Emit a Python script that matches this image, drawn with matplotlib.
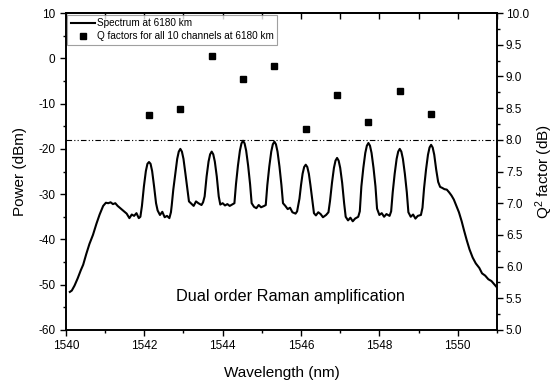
import matplotlib
matplotlib.use("Agg")
import matplotlib.pyplot as plt
from matplotlib.ticker import MultipleLocator, FormatStrFormatter

plt.rcParams['font.family'] = ['Liberation Sans', 'DejaVu Sans']
plt.rcParams['mathtext.default'] = 'regular'
plt.rcParams['axes.unicode_minus'] = False

# ---- data ----
wavelength_nm = [
    1540.10, 1540.15, 1540.22, 1540.30, 1540.38, 1540.44, 1540.52, 1540.60, 1540.69, 1540.78,
    1540.86, 1540.95, 1541.02, 1541.08, 1541.14, 1541.20, 1541.26, 1541.32, 1541.40, 1541.48,
    1541.55, 1541.62, 1541.68, 1541.74, 1541.80, 1541.86, 1541.90,
    1541.94, 1541.99, 1542.04, 1542.08, 1542.12, 1542.16, 1542.20, 1542.25, 1542.30, 1542.34,
    1542.40, 1542.46, 1542.52, 1542.58, 1542.64, 1542.68,
    1542.70, 1542.74, 1542.79, 1542.84, 1542.88, 1542.92, 1542.96, 1543.00, 1543.05, 1543.10, 1543.14,
    1543.20, 1543.26, 1543.32, 1543.38, 1543.46, 1543.50,
    1543.54, 1543.59, 1543.64, 1543.68, 1543.72, 1543.76, 1543.80, 1543.85, 1543.90, 1543.94,
    1544.00, 1544.06, 1544.12, 1544.18, 1544.26, 1544.30,
    1544.34, 1544.39, 1544.44, 1544.48, 1544.52, 1544.56, 1544.60, 1544.65, 1544.70, 1544.74,
    1544.80, 1544.86, 1544.92, 1544.98, 1545.06, 1545.10,
    1545.14, 1545.19, 1545.24, 1545.28, 1545.32, 1545.36, 1545.40, 1545.45, 1545.50, 1545.54,
    1545.60, 1545.66, 1545.72, 1545.78, 1545.86, 1545.90,
    1545.96, 1546.00, 1546.04, 1546.08, 1546.12, 1546.16, 1546.20, 1546.24, 1546.29, 1546.33,
    1546.38, 1546.44, 1546.50, 1546.56, 1546.64, 1546.70,
    1546.74, 1546.79, 1546.84, 1546.88, 1546.92, 1546.96, 1547.00, 1547.05, 1547.10, 1547.14,
    1547.20, 1547.26, 1547.32, 1547.38, 1547.46, 1547.50,
    1547.54, 1547.59, 1547.64, 1547.68, 1547.72, 1547.76, 1547.80, 1547.85, 1547.90, 1547.94,
    1548.00, 1548.06, 1548.12, 1548.18, 1548.26, 1548.30,
    1548.34, 1548.39, 1548.44, 1548.48, 1548.52, 1548.56, 1548.60, 1548.65, 1548.70, 1548.74,
    1548.80, 1548.86, 1548.92, 1548.98, 1549.06, 1549.10,
    1549.14, 1549.19, 1549.24, 1549.28, 1549.32, 1549.36, 1549.40, 1549.45, 1549.50, 1549.55,
    1549.60, 1549.66, 1549.72, 1549.78, 1549.84, 1549.90, 1549.96, 1550.03, 1550.10, 1550.16,
    1550.23, 1550.30, 1550.38, 1550.46, 1550.55, 1550.62, 1550.70, 1550.78, 1550.86, 1550.94, 1551.00,
]
power_dbm = [
    -51.6, -51.3, -50.2, -48.6, -46.8, -45.6, -43.2, -41.0, -39.0, -36.5,
    -34.5, -32.6, -31.9, -32.0, -31.8, -32.2, -32.0, -32.6, -33.2, -33.8,
    -34.3, -35.3, -34.5, -34.8, -34.2, -35.3, -35.0,
    -32.6, -28.3, -24.9, -23.3, -22.9, -23.3, -24.9, -28.3, -32.0, -33.6,
    -34.6, -33.9, -35.1, -34.8, -35.3, -34.0,
    -32.5, -29.0, -25.5, -22.2, -20.6, -20.0, -20.6, -22.2, -25.5, -29.0, -31.6,
    -32.1, -32.6, -31.6, -32.0, -32.4, -31.8,
    -30.5, -26.1, -22.8, -21.2, -20.6, -21.2, -22.8, -26.1, -30.5, -32.3,
    -32.0, -32.5, -32.2, -32.6, -32.2, -32.0,
    -27.8, -23.7, -20.4, -18.8, -18.2, -18.8, -20.4, -23.7, -27.8, -32.0,
    -32.8, -33.1, -32.4, -32.9, -32.6, -32.4,
    -28.0, -23.9, -20.6, -19.0, -18.4, -19.0, -20.6, -23.9, -28.0, -32.0,
    -32.6, -33.3, -33.0, -34.0, -34.3, -33.8,
    -31.0, -28.0, -25.5, -24.0, -23.5, -24.0, -25.5, -28.0, -31.5, -34.2,
    -34.7, -34.0, -34.4, -35.1, -34.6, -34.0,
    -31.5, -27.5, -24.2, -22.6, -22.0, -22.6, -24.2, -27.5, -32.0, -35.0,
    -35.8, -35.2, -36.0, -35.4, -35.0, -33.8,
    -28.3, -24.2, -20.9, -19.3, -18.7, -19.3, -20.9, -24.2, -28.3, -33.2,
    -34.6, -34.2, -35.0, -34.4, -34.8, -33.8,
    -29.6, -25.5, -22.2, -20.6, -20.0, -20.6, -22.2, -25.5, -29.6, -34.0,
    -35.0, -34.5, -35.4, -34.8, -34.6, -33.0,
    -28.7, -24.6, -21.3, -19.7, -19.1, -19.7, -21.3, -24.6, -27.3, -28.4,
    -28.6, -28.9, -29.0, -29.6, -30.3, -31.2, -32.5, -34.0, -36.0, -38.0,
    -40.2, -42.2, -44.0, -45.3, -46.3, -47.5, -48.0, -48.8, -49.2, -50.0, -50.6,
]
channel_nm = [1542.12, 1542.92, 1543.72, 1544.52, 1545.32,
              1546.12, 1546.92, 1547.72, 1548.52, 1549.32]
q2_factor_db = [8.39, 8.49, 9.32, 8.96, 9.17, 8.17, 8.71, 8.28, 8.77, 8.41]
threshold_dbm = -18.0

fig = plt.figure(figsize=(5.54, 3.85), dpi=100)
ax = fig.add_axes([0.119, 0.143, 0.778, 0.823])
ax2 = ax.twinx()

ln, = ax.plot(wavelength_nm, power_dbm, color='black', lw=1.5, label='Spectrum at 6180 km')
ax.axhline(threshold_dbm, color='black', lw=0.8, dashes=(5, 2, 1, 2, 1, 2))
sc, = ax2.plot(channel_nm, q2_factor_db, ls='none', marker='s', ms=4.8,
               color='black', label='Q factors for all 10 channels at 6180 km')

ax.set_xlim(1540, 1551)
ax.set_ylim(-60, 10)
ax2.set_ylim(5.0, 10.0)

ax.xaxis.set_major_locator(MultipleLocator(2))
ax.xaxis.set_minor_locator(MultipleLocator(1))
ax.yaxis.set_major_locator(MultipleLocator(10))
ax.yaxis.set_minor_locator(MultipleLocator(5))
ax2.yaxis.set_major_locator(MultipleLocator(0.5))
ax2.yaxis.set_minor_locator(MultipleLocator(0.25))
ax2.yaxis.set_major_formatter(FormatStrFormatter('%.1f'))

for a in (ax, ax2):
    for s in a.spines.values():
        s.set_linewidth(1.2)
ax.tick_params(which='major', direction='out', length=4, width=1.0, labelsize=8.5, colors='black')
ax.tick_params(which='minor', direction='out', length=2.5, width=1.0)
ax2.tick_params(which='major', direction='out', length=4, width=1.0, labelsize=8.5, pad=2.5)
ax2.tick_params(which='minor', direction='out', length=2.5, width=1.0)

top = ax.secondary_xaxis('top')
top.xaxis.set_major_locator(MultipleLocator(2))
top.xaxis.set_minor_locator(MultipleLocator(1))
top.tick_params(which='major', direction='in', length=4, width=1.0, labeltop=False)
top.tick_params(which='minor', direction='in', length=4, width=1.0)
top.spines['top'].set_linewidth(1.2)

ax.set_xlabel('Wavelength (nm)', fontsize=11, labelpad=10)
ax.set_ylabel('Power (dBm)', fontsize=11, labelpad=8)
ax2.set_ylabel('Q$^2$ factor (dB)', fontsize=11, labelpad=3)

ax.text(1545.72, -52.6, 'Dual order Raman amplification', fontsize=11.7,
        ha='center', va='center')

leg = ax.legend(handles=[ln, sc], loc='upper left', fontsize=7.2, frameon=True,
                fancybox=False, borderaxespad=0.15, handlelength=2.4,
                handletextpad=0.2, borderpad=0.35, labelspacing=0.3)
leg.get_frame().set_edgecolor('#888888')
leg.get_frame().set_linewidth(0.8)

fig.savefig('out.png', dpi=100)
